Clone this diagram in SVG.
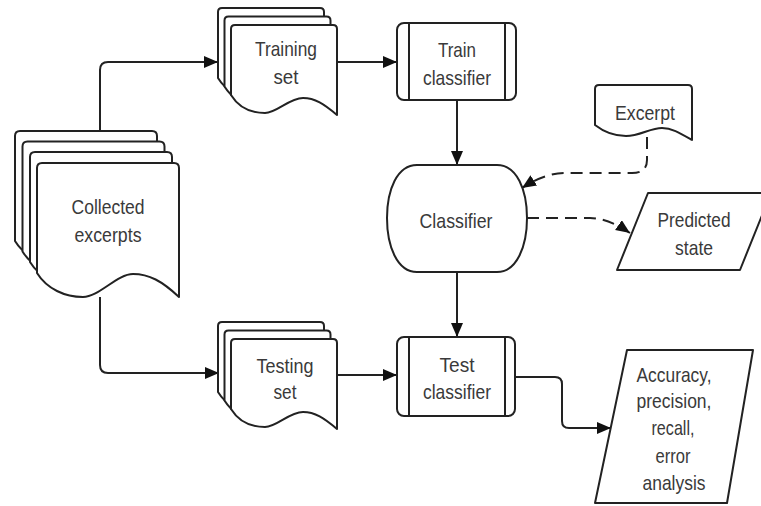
<svg xmlns="http://www.w3.org/2000/svg" width="761" height="506" viewBox="0 0 761 506">
<style>
.s{fill:#fff;stroke:#222;stroke-width:2;stroke-linejoin:round}
.c{fill:none;stroke:#222;stroke-width:2}
.d{stroke-dasharray:12 7}
text{font-family:"Liberation Sans",Arial,sans-serif;font-size:21px;fill:#3a3a3a;text-anchor:middle}
</style>
<defs>
<marker id="ah" markerUnits="userSpaceOnUse" markerWidth="15" markerHeight="13" refX="14" refY="6" orient="auto">
<path d="M0,0 L14,6 L0,12 Z" fill="#111"/>
</marker>
<path id="docBig" d="M0,5 Q0,0 5,0 H137 Q142,0 142,5 V134 C125,118 112,111 96,111 C80,111 62,134 46,134 C28,134 10,126 0,110 Z"/>
<path id="docSmall" d="M0,4 Q0,0 4,0 H102 Q106,0 106,4 V90 C93,79 84,73 72,73 C58,73 46,88 34,88 C21,88 8,83 0,70 Z"/>
</defs>
<g id="connectors">
<path class="c" d="M100,140 V70 Q100,62 108,62 H218" marker-end="url(#ah)"/>
<path class="c" d="M100,297 V365 Q100,373 108,373 H219" marker-end="url(#ah)"/>
<path class="c" d="M337,62 H397" marker-end="url(#ah)"/>
<path class="c" d="M337,375 H397" marker-end="url(#ah)"/>
<path class="c" d="M457,100 V165" marker-end="url(#ah)"/>
<path class="c" d="M457,272 V337" marker-end="url(#ah)"/>
<path class="c" d="M515,377 H555 Q562,377 562,384 V421 Q562,428 569,428 H611" marker-end="url(#ah)"/>
<path class="c d" d="M647,137 V160 Q647,173 632,173 H565 Q545,173 522,188" marker-end="url(#ah)"/>
<path class="c d" d="M527,218 H590 Q608,218 630,233" marker-end="url(#ah)"/>
</g>
<g id="collected">
<use href="#docBig" class="s" x="15" y="131"/>
<use href="#docBig" class="s" x="22.5" y="141.5"/>
<use href="#docBig" class="s" x="30" y="152"/>
<use href="#docBig" class="s" x="37" y="163"/>
<text x="108" y="214" textLength="73" lengthAdjust="spacingAndGlyphs">Collected</text>
<text x="108" y="242" textLength="67" lengthAdjust="spacingAndGlyphs">excerpts</text>
</g>
<g id="training">
<use href="#docSmall" class="s" x="218" y="8"/>
<use href="#docSmall" class="s" x="224.5" y="16.5"/>
<use href="#docSmall" class="s" x="231" y="25"/>
<text x="286" y="56" textLength="62" lengthAdjust="spacingAndGlyphs">Training</text>
<text x="286" y="84" textLength="25" lengthAdjust="spacingAndGlyphs">set</text>
</g>
<g id="testing">
<use href="#docSmall" class="s" x="218" y="322"/>
<use href="#docSmall" class="s" x="224.5" y="330.5"/>
<use href="#docSmall" class="s" x="231" y="339"/>
<text x="285" y="373" textLength="57" lengthAdjust="spacingAndGlyphs">Testing</text>
<text x="285" y="399" textLength="23" lengthAdjust="spacingAndGlyphs">set</text>
</g>
<g id="train">
<rect class="s" x="397" y="23" width="119" height="77" rx="7"/>
<path class="c" d="M409,23 V100 M505,23 V100"/>
<text x="457" y="57" textLength="38" lengthAdjust="spacingAndGlyphs">Train</text>
<text x="457" y="85" textLength="68" lengthAdjust="spacingAndGlyphs">classifier</text>
</g>
<g id="classifier">
<path class="s" d="M417,165 H497 C517,165 527,190 527,218 C527,246 517,272 497,272 H417 C397,272 387,246 387,218 C387,190 397,165 417,165 Z"/>
<text x="456" y="228" textLength="73" lengthAdjust="spacingAndGlyphs">Classifier</text>
</g>
<g id="test">
<rect class="s" x="397" y="337" width="118" height="79" rx="7"/>
<path class="c" d="M409,337 V416 M505,337 V416"/>
<text x="457" y="372" textLength="35" lengthAdjust="spacingAndGlyphs">Test</text>
<text x="457" y="399" textLength="68" lengthAdjust="spacingAndGlyphs">classifier</text>
</g>
<g id="excerpt">
<path class="s" d="M595,89 Q595,85 599,85 H688 Q692,85 692,89 V140 C680,133 672,128 662,128 C650,128 640,136 626,136 C614,136 604,132 595,125 Z"/>
<text x="645" y="120" textLength="60" lengthAdjust="spacingAndGlyphs">Excerpt</text>
</g>
<g id="predicted">
<path class="s" d="M648,193 H771 L740,270 H617 Z"/>
<text x="694" y="227" textLength="73" lengthAdjust="spacingAndGlyphs">Predicted</text>
<text x="694" y="255" textLength="38" lengthAdjust="spacingAndGlyphs">state</text>
</g>
<g id="metrics">
<path class="s" d="M627,350 H753 L727,503 H595 Z"/>
<text x="674" y="382" textLength="75" lengthAdjust="spacingAndGlyphs">Accuracy,</text>
<text x="674" y="408" textLength="75" lengthAdjust="spacingAndGlyphs">precision,</text>
<text x="673" y="435" textLength="43" lengthAdjust="spacingAndGlyphs">recall,</text>
<text x="673" y="463" textLength="35" lengthAdjust="spacingAndGlyphs">error</text>
<text x="674" y="490" textLength="63" lengthAdjust="spacingAndGlyphs">analysis</text>
</g>
</svg>
